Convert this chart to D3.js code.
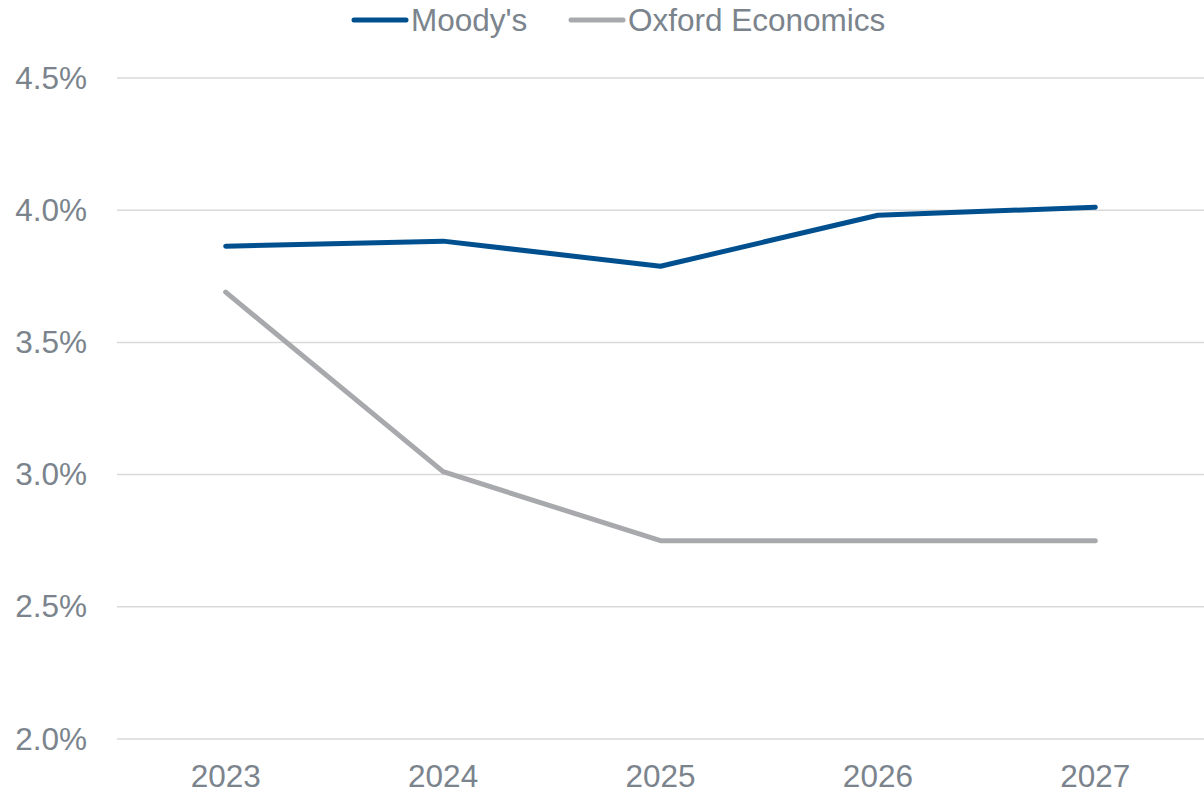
<!DOCTYPE html>
<html>
<head>
<meta charset="utf-8">
<script src="https://cdn.jsdelivr.net/npm/d3@7"></script>
<style>
  html, body { margin: 0; padding: 0; background: #fff; }
  svg { display: block; font-family: "Liberation Sans", Arial, sans-serif; }
</style>
</head>
<body>
<svg id="chart" width="1204" height="793"></svg>
<script>
// Forecast series by year
const years = ["2023", "2024", "2025", "2026", "2027"];
const moodys = [3.864, 3.883, 3.788, 3.981, 4.011];
const oxford = [3.69, 3.011, 2.75, 2.75, 2.75];
const yTicks = [2.0, 2.5, 3.0, 3.5, 4.0, 4.5];
const seriesNames = ["Moody's", "Oxford Economics"];
const seriesColors = ["#00508F", "#A7A9AC"];

const svg = d3.select("#chart");
const margin = { top: 78, right: 0, bottom: 54, left: 117 };
const width = 1204, height = 793;
const fontSize = 31.5;

const x = d3.scaleBand().domain(years).range([margin.left, width - margin.right]);
const y = d3.scaleLinear().domain([2.0, 4.5]).range([height - margin.bottom, margin.top]);

const textColor = "#7B848D";

// Horizontal gridlines
svg.append("g")
  .selectAll("line")
  .data(yTicks)
  .join("line")
  .attr("x1", margin.left)
  .attr("x2", width)
  .attr("y1", d => y(d))
  .attr("y2", d => y(d))
  .attr("stroke", "#D9D9D9")
  .attr("stroke-width", 1.5);

// Y axis labels
const yAxis = d3.axisLeft(y).tickValues(yTicks).tickFormat(d => d.toFixed(1) + "%").tickSize(0).tickPadding(30);
const yg = svg.append("g").attr("transform", `translate(${margin.left},0)`).call(yAxis);
yg.select(".domain").remove();
yg.selectAll("text").attr("font-size", fontSize).attr("fill", textColor).attr("font-family", "Liberation Sans, Arial, sans-serif");

// X axis labels
const xAxis = d3.axisBottom(x).tickSize(0).tickPadding(26);
const xg = svg.append("g").attr("transform", `translate(0,${height - margin.bottom})`).call(xAxis);
xg.select(".domain").remove();
xg.selectAll("text").attr("font-size", fontSize).attr("fill", textColor).attr("font-family", "Liberation Sans, Arial, sans-serif");

// Series lines
const line = d3.line()
  .x((d, i) => x(years[i]) + x.bandwidth() / 2)
  .y(d => y(d));

[moodys, oxford].forEach((vals, k) => {
  svg.append("path")
    .datum(vals)
    .attr("d", line)
    .attr("fill", "none")
    .attr("stroke", seriesColors[k])
    .attr("stroke-width", 5)
    .attr("stroke-linecap", "round")
    .attr("stroke-linejoin", "round");
});

// Legend
const legendItems = [
  { name: seriesNames[0], color: seriesColors[0], x0: 354 },
  { name: seriesNames[1], color: seriesColors[1], x0: 571 }
];
const lg = svg.append("g");
legendItems.forEach(it => {
  lg.append("line")
    .attr("x1", it.x0).attr("x2", it.x0 + 52)
    .attr("y1", 20).attr("y2", 20)
    .attr("stroke", it.color)
    .attr("stroke-width", 5)
    .attr("stroke-linecap", "round");
  lg.append("text")
    .attr("x", it.x0 + 57)
    .attr("y", 31)
    .attr("font-size", fontSize)
    .attr("fill", textColor)
    .text(it.name);
});
</script>
</body>
</html>
